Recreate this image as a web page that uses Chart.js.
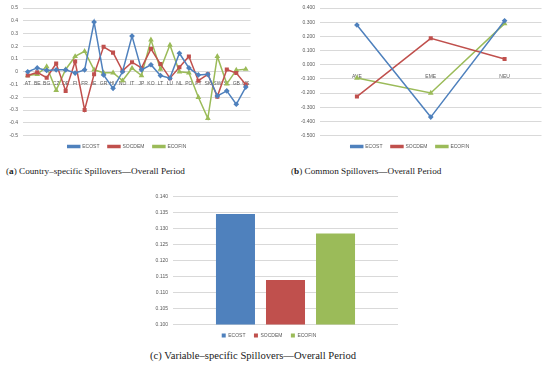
<!DOCTYPE html>
<html>
<head>
<meta charset="utf-8">
<script src="https://cdn.jsdelivr.net/npm/chart.js@4"></script>
<style>
  body { margin: 0; background: #fff; width: 550px; height: 368px; position: relative; overflow: hidden; }
  .box { position: absolute; }
  .cap { position: absolute; font-family: "Liberation Serif", serif; color: #222; white-space: nowrap; }
</style>
</head>
<body>
<div class="box" style="left:0;top:0;"><canvas id="chartA" width="256" height="159"></canvas></div>
<div class="box" style="left:275px;top:0;"><canvas id="chartB" width="272" height="159"></canvas></div>
<div class="box" style="left:140px;top:186px;"><canvas id="chartC" width="260" height="162"></canvas></div>
<div class="cap" style="left:6px;top:166px;font-size:9.2px;">(<b>a</b>) Country–specific Spillovers—Overall Period</div>
<div class="cap" style="left:291px;top:166px;font-size:9.2px;">(<b>b</b>) Common Spillovers—Overall Period</div>
<div class="cap" style="left:150px;top:350px;font-size:10.6px;">(c) Variable–specific Spillovers—Overall Period</div>
<script>
// (a) country-specific
const countries = ['AT', 'BE', 'BG', 'CZ', 'DE', 'FI', 'FR', 'IE', 'GR', 'HU', 'NO', 'IT', 'JP', 'KO', 'LT', 'LU', 'NL', 'PO', 'PT', 'SK', 'SW', 'SL', 'GB', 'US'];
const ecostA = [0.0, 0.03, 0.01, 0.015, 0.015, -0.01, 0.015, 0.39, -0.025, -0.13, 0.0, 0.28, 0.015, 0.055, -0.03, -0.05, 0.145, 0.03, -0.025, -0.02, -0.19, -0.15, -0.255, -0.12];
const socdemA = [-0.03, -0.005, -0.047, 0.065, -0.15, 0.08, -0.30, -0.02, 0.196, 0.15, 0.008, 0.075, 0.03, 0.18, 0.06, -0.05, 0.035, 0.12, -0.07, -0.02, -0.195, 0.018, -0.01, -0.1];
const ecofinA = [-0.03, -0.02, 0.04, -0.145, 0.018, 0.12, 0.16, 0.015, -0.008, -0.008, -0.07, 0.028, -0.03, 0.25, 0.02, 0.21, 0.0, -0.008, -0.2, -0.365, 0.12, -0.095, 0.013, 0.02];

// (b) common
const regions = ['AVE', 'EME', 'NEU'];
const ecostB = [0.28, -0.37, 0.31];
const socdemB = [-0.225, 0.186, 0.04];
const ecofinB = [-0.094, -0.2, 0.29];

// (c) variable-specific
const seriesNames = ['ECOST', 'SOCDEM', 'ECOFIN'];
const variableVals = [0.1346, 0.1139, 0.1285];

const colors = ['#4F81BD', '#C0504D', '#9BBB59'];
const markers = ['rectRot', 'rect', 'triangle'];
const tickFont = { size: 5, family: 'Liberation Sans' };
const tickColor = '#595959';
const gridColor = '#d9d9d9';

function lineSets(vals) {
    return vals.map((v, i) => ({
        label: seriesNames[i], data: v, borderColor: colors[i], backgroundColor: colors[i],
        borderWidth: 1.5, pointStyle: markers[i], pointRadius: 1.8, tension: 0
    }));
}

function legendOpts(boxH) {
    return {
        position: 'bottom',
        labels: { font: tickFont, color: tickColor, boxWidth: boxH > 2 ? 4 : 12, boxHeight: boxH, padding: 8.5 }
    };
}

function lineChart(id, labels, vals, yMin, yMax, yWidth, fmt) {
    new Chart(document.getElementById(id), {
        type: 'line',
        data: { labels: labels, datasets: lineSets(vals) },
        options: {
            responsive: false, animation: false,
            layout: { padding: { top: 8, right: 2, left: 0, bottom: 0 } },
            plugins: { legend: legendOpts(2), tooltip: { enabled: false } },
            scales: {
                x: {
                    position: { y: 0 }, offset: true,
                    grid: { display: false }, border: { display: false },
                    ticks: { font: tickFont, color: tickColor, maxRotation: 0, autoSkip: false, padding: 1 }
                },
                y: {
                    min: yMin, max: yMax,
                    afterFit: s => { s.width = yWidth; },
                    grid: { color: gridColor, drawTicks: false }, border: { display: false },
                    ticks: { stepSize: 0.1, font: tickFont, color: tickColor, padding: 5, callback: fmt }
                }
            }
        }
    });
}

lineChart('chartA', countries, [ecostA, socdemA, ecofinA], -0.5, 0.5, 23, v => String(Math.round(v * 10) / 10));
lineChart('chartB', regions, [ecostB, socdemB, ecofinB], -0.5, 0.4, 45, v => v.toFixed(3));

new Chart(document.getElementById('chartC'), {
    type: 'bar',
    data: {
        labels: [''],
        datasets: seriesNames.map((n, i) => ({
            label: n, data: [variableVals[i]], backgroundColor: colors[i],
            categoryPercentage: 0.667, barPercentage: 0.78
        }))
    },
    options: {
        responsive: false, animation: false,
        layout: { padding: { top: 10.7, right: 2, left: 0, bottom: 0 } },
        plugins: { legend: legendOpts(4), tooltip: { enabled: false } },
        scales: {
            x: { display: false },
            y: {
                min: 0.1, max: 0.14,
                afterFit: s => { s.width = 33; },
                grid: { color: gridColor, drawTicks: false }, border: { display: false },
                ticks: { stepSize: 0.005, font: tickFont, color: tickColor, padding: 5, callback: v => v.toFixed(3) }
            }
        }
    }
});
</script>
</body>
</html>
